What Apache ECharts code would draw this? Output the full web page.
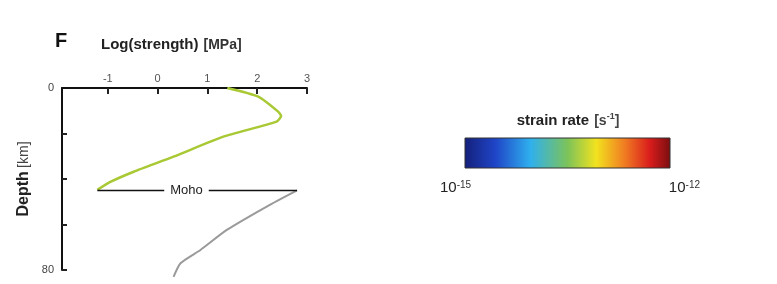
<!DOCTYPE html>
<html>
<head>
<meta charset="utf-8">
<script src="https://cdn.jsdelivr.net/npm/echarts@6/dist/echarts.min.js"></script>
<style>
	html, body { margin: 0; padding: 0; background: #fff; }
	#main { width: 777px; height: 284px; }
</style>
</head>
<body>
<div id="main"></div>
<script>
"use strict";

// crust (green) and mantle (grey) strength profile: [log strength, depth]
var crustStrength = [1.4, 2.02, 2.42, 2.48, 2.39, 1.32, 0.32, -0.48, -0.94, -1.21];
var crustDepth = [0, 3.8, 10.4, 12.3, 14.8, 21.4, 30.2, 36.8, 41.2, 44.8];
var mantleStrength = [2.8, 2.2, 1.39, 0.86, 0.46, 0.32];
var mantleDepth = [45, 52, 62.4, 71.2, 77, 83];
var mohoDepth = 45;
var mohoRange = [-1.21, 2.8];
var mohoLabelAt = 0.58;
var xTicks = [-1, 0, 1, 2, 3];
var yTicks = [20, 40, 60, 80];
var yLabels = [0, 80];
var strainLabels = ['-15', '-12'];

function pairs(xs, ys) {
	var d = [];
	for (var i = 0, len = xs.length; i < len; i++) {
		d.push([xs[i], ys[i]]);
	}
	return d;
}

var supRich = {
	n: { fontSize: 15, fill: '#222' },
	s: { fontSize: 10, fill: '#333', verticalAlign: 'top', padding: [0, 0, 6, 0] }
};

var chart = echarts.init(document.getElementById('main')),
	option = {
		animation: false,
		backgroundColor: '#fff',
		textStyle: { fontFamily: 'Liberation Sans, Arial, sans-serif' },
		title: [{
			text: 'F',
			left: 50, top: 26,
			textStyle: { fontSize: 20, fontWeight: 'bold', color: '#111' }
		}, {
			text: '{b|Log(strength)} {n|[MPa]}',
			left: 96, top: 31,
			textStyle: {
				rich: {
					b: { fontSize: 15, fontWeight: 'bold', color: '#222' },
					n: { fontSize: 14, color: '#333' }
				}
			}
		}, {
			text: '{b|strain rate} {n|[s}{s|-1}{n|]}',
			left: 563, top: 107, textAlign: 'center',
			textStyle: {
				rich: {
					b: { fontSize: 15, fontWeight: 'bold', color: '#222' },
					n: { fontSize: 14, color: '#444' },
					s: { fontSize: 9, color: '#444', verticalAlign: 'top', padding: [0, 0, 6, 0] }
				}
			}
		}],
		grid: { left: 62, right: 470, top: 88, bottom: 14 },
		xAxis: {
			type: 'value',
			position: 'top',
			min: -1.92, max: 3,
			axisLine: { show: true, onZero: false, lineStyle: { color: '#111', width: 2 } },
			axisTick: { show: true, inside: true, length: 6, customValues: xTicks, lineStyle: { color: '#222', width: 2 } },
			axisLabel: { customValues: xTicks, fontSize: 11, color: '#555', margin: 4 },
			splitLine: { show: false }
		},
		yAxis: {
			type: 'value',
			inverse: true,
			min: 0, max: 80,
			name: '{b|Depth} {n|[km]}',
			nameLocation: 'middle',
			nameRotate: 90,
			nameGap: 30,
			nameTextStyle: {
				rich: {
					b: { fontSize: 16, fontWeight: 'bold', color: '#222' },
					n: { fontSize: 14, color: '#444' }
				}
			},
			axisLine: { show: true, onZero: false, lineStyle: { color: '#111', width: 2 } },
			axisTick: { show: true, inside: true, length: 5, customValues: yTicks, lineStyle: { color: '#222', width: 2 } },
			axisLabel: { customValues: yLabels, fontSize: 11, color: '#444', margin: 8 },
			splitLine: { show: false }
		},
		series: [{
			name: 'crust',
			type: 'line',
			data: pairs(crustStrength, crustDepth),
			smooth: 0.2,
			symbol: 'none',
			clip: false,
			lineStyle: { color: '#a9c934', width: 2.5 }
		}, {
			name: 'mantle',
			type: 'line',
			data: pairs(mantleStrength, mantleDepth),
			smooth: 0.2,
			symbol: 'none',
			clip: false,
			lineStyle: { color: '#9a9a9a', width: 2 }
		}, {
			name: 'moho',
			type: 'line',
			data: [[mohoRange[0], mohoDepth], [mohoRange[1], mohoDepth]],
			symbol: 'none',
			clip: false,
			z: 3,
			lineStyle: { color: '#111', width: 1.5 }
		}, {
			name: 'moho label',
			type: 'scatter',
			data: [[mohoLabelAt, mohoDepth]],
			symbolSize: 1,
			itemStyle: { color: '#fff', opacity: 0 },
			z: 5,
			label: {
				show: true,
				position: 'inside',
				formatter: 'Moho',
				fontSize: 13,
				color: '#222',
				opacity: 1,
				backgroundColor: '#fff',
				padding: [1, 6]
			}
		}],
		graphic: [{
			type: 'rect',
			shape: { x: 465, y: 138, width: 205, height: 30 },
			style: {
				stroke: '#333', lineWidth: 1,
				fill: new echarts.graphic.LinearGradient(0, 0, 1, 0, [
					{ offset: 0, color: '#14207a' },
					{ offset: 0.15, color: '#1f45c8' },
					{ offset: 0.32, color: '#2fb0ee' },
					{ offset: 0.5, color: '#7cc35a' },
					{ offset: 0.64, color: '#f2e21e' },
					{ offset: 0.78, color: '#f07a22' },
					{ offset: 0.9, color: '#d91c1c' },
					{ offset: 1, color: '#7a0e10' }
				])
			}
		}, {
			type: 'text',
			left: 440, top: 180,
			style: { text: '{n|10}{s|' + strainLabels[0] + '}', rich: supRich }
		}, {
			type: 'text',
			right: 77, top: 180,
			style: { text: '{n|10}{s|' + strainLabels[1] + '}', rich: supRich }
		}]
	};

chart.setOption(option);
</script>
</body>
</html>
